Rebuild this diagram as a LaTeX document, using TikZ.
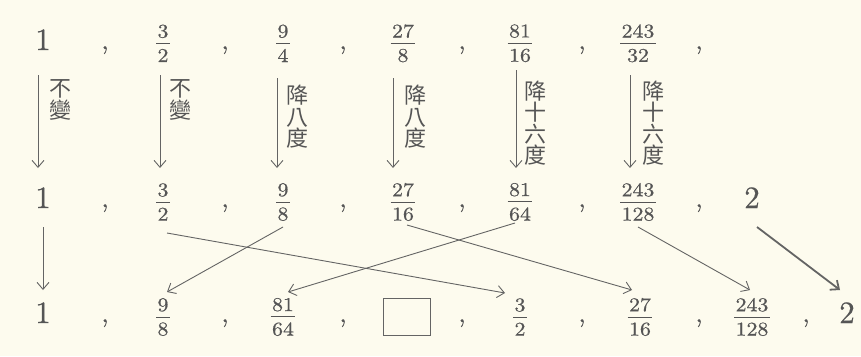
\documentclass[tikz,border=0pt]{standalone}
\usepackage{graphicx}
\usepackage{fontspec}
\newfontfamily\cjk{Noto Sans CJK TC}
\newfontfamily\numfont{lmroman10-regular.otf}[FakeBold=0.6]
\usetikzlibrary{arrows.meta}
\definecolor{bgc}{RGB}{253,251,238}
\definecolor{inkc}{RGB}{85,85,85}
\definecolor{lnc}{RGB}{100,100,100}
\newcommand\myfrac[2]{\scalebox{1.12}[1.0]{\vbox{\offinterlineskip\halign{\hfil\kern1.2pt##\kern1.2pt\hfil\cr #1\cr\noalign{\kern5pt\hrule height 0.9pt\kern5pt}#2\cr}}}}
\tikzset{
  fracst/.style={anchor=center, inner sep=0pt, text=inkc, font=\numfont\fontsize{19.5}{20}\selectfont},
  bigst/.style={anchor=base, inner sep=0pt, text=inkc, font=\numfont\fontsize{31}{36}\selectfont},
  commast/.style={anchor=base, inner sep=0pt, text=inkc, font=\numfont\fontsize{26}{30}\selectfont},
  labst/.style={inner sep=0pt, text=inkc, align=center, font=\cjk\fontsize{22}{21.5}\selectfont},
  arrst/.style={draw=lnc, line width=0.9pt, -{Straight Barb[length=7pt,width=12pt]}},
  boxst/.style={draw=lnc, line width=1pt, minimum width=47pt, minimum height=37pt, inner sep=0pt}
}
\begin{document}
\begin{tikzpicture}[x=1pt,y=-1pt]
\fill[bgc] (0,0) rectangle (861,356);
\useasboundingbox (0,0) rectangle (861,356);
% row 1
\node[bigst] (t1) at (43,50) {1};
\node[fracst] (t2) at (163,43.3) {\myfrac{3}{2}};
\node[fracst] (t3) at (283,43.3) {\myfrac{9}{4}};
\node[fracst] (t4) at (403,43.3) {\myfrac{27}{8}};
\node[fracst] (t5) at (520,43.3) {\myfrac{81}{16}};
\node[fracst] (t6) at (638,43.3) {\myfrac{243}{32}};
\foreach \x/\n in {105/1,225/2,343/3,462/4,582/5,699/6}
  \node[commast] (tc\n) at (\x,49) {,};
% row 2
\node[bigst] (m1) at (43,208) {1};
\node[fracst] (m2) at (163,202) {\myfrac{3}{2}};
\node[fracst] (m3) at (283,202) {\myfrac{9}{8}};
\node[fracst] (m4) at (403,202) {\myfrac{27}{16}};
\node[fracst] (m5) at (520,202) {\myfrac{81}{64}};
\node[fracst] (m6) at (638,202) {\myfrac{243}{128}};
\node[bigst] (m7) at (752,208) {2};
\foreach \x/\n in {105/1,225/2,343/3,462/4,582/5,699/6}
  \node[commast] (mc\n) at (\x,207) {,};
% row 3
\node[bigst] (b1) at (43,323) {1};
\node[fracst] (b2) at (163,317) {\myfrac{9}{8}};
\node[fracst] (b3) at (283,317) {\myfrac{81}{64}};
\node[boxst] (b4) at (406.5,316.5) {};
\node[fracst] (b5) at (520,317) {\myfrac{3}{2}};
\node[fracst] (b6) at (640,317) {\myfrac{27}{16}};
\node[fracst] (b7) at (752,317) {\myfrac{243}{128}};
\node[bigst] (b8) at (847,323) {2};
\foreach \x/\n in {105/1,225/2,343/3,462/4,582/5,699/6,806/7}
  \node[commast] (bc\n) at (\x,322) {,};
% labels
\node[labst] (l1) at (60,100) {不\\變};
\node[labst] (l2) at (180,100) {不\\變};
\node[labst] (l3) at (297,117) {降\\八\\度};
\node[labst] (l4) at (415,117) {降\\八\\度};
\node[labst] (l5) at (535,123) {降\\十\\六\\度};
\node[labst] (l6) at (653,123) {降\\十\\六\\度};
% vertical arrows row 1 -> row 2
\draw[arrst] ([shift={(-5,25)}]t1.base) -- ([shift={(-5,-40)}]m1.base);
\draw[arrst] ([shift={(-3,32)}]t2.center) -- ([shift={(-3,-34)}]m2.center);
\draw[arrst] ([shift={(-6,35)}]t3.center) -- ([shift={(-6,-34)}]m3.center);
\draw[arrst] ([shift={(-10,35)}]t4.center) -- ([shift={(-10,-34)}]m4.center);
\draw[arrst] ([shift={(-4,27)}]t5.center) -- ([shift={(-4,-34)}]m5.center);
\draw[arrst] ([shift={(-8,32)}]t6.center) -- ([shift={(-8,-34)}]m6.center);
% row 2 -> row 3
\draw[arrst] ([shift={(0,19)}]m1.base) -- ([shift={(0,-33)}]b1.base);
\draw[arrst] ([shift={(4,31)}]m2.center) -- ([shift={(-15,-24)}]b5.center);
\draw[arrst] ([shift={(0,25)}]m3.center) -- ([shift={(4,-25)}]b2.center);
\draw[arrst] ([shift={(4,23)}]m4.center) -- ([shift={(-8,-27)}]b6.center);
\draw[arrst] ([shift={(-5,21)}]m5.center) -- ([shift={(5,-25)}]b3.center);
\draw[arrst] ([shift={(0,25)}]m6.center) -- ([shift={(-2,-27)}]b7.center);
\draw[arrst, line width=1.8pt] ([shift={(5,19)}]m7.base) -- ([shift={(-7,-33)}]b8.base);
\end{tikzpicture}
\end{document}
